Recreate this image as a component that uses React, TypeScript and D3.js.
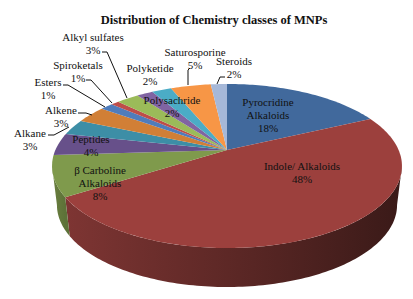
import * as d3 from "d3";

const categories = [
  "Pyrocridine Alkaloids", "Indole/ Alkaloids", "β Carboline Alkaloids", "Peptides", "Alkane", "Alkene",
  "Esters", "Spiroketals", "Alkyl sulfates", "Polyketide", "Polysachride", "Saturosporine", "Steroids",
];
// the printed labels are these rounded
const shares = [18, 48, 8, 4.4, 3.1, 3.4, 1.4, 0.9, 2.5, 1.8, 2.2, 4.5, 1.8];
const topColors = [
  "#41699c", "#9c403d", "#7f9a4c", "#67508a", "#3d8ea6", "#d17f36",
  "#4f7cbb", "#be4d49", "#9bbb59", "#8064a2", "#4bacc6", "#f79646", "#a6b8d8",
];
const wallLight = ["#335279", "#7e3533", "#6b8040"];
const wallDark = ["#2a4565", "#3a1a18", "#5d7238"];

// label lines and anchor for each category, same order as categories
const labelLines = [
  ["Pyrocridine", "Alkaloids"], ["Indole/ Alkaloids"], ["β Carboline", "Alkaloids"],
  ["Peptides"], ["Alkane"], ["Alkene"], ["Esters"], ["Spiroketals"],
  ["Alkyl sulfates"], ["Polyketide"], ["Polysachride"], ["Saturosporine"], ["Steroids"],
];
const labelAnchors = [
  [268, 106], [302, 170], [100, 174], [91, 143], [30, 137], [61, 114], [48, 86],
  [78, 69], [93, 41], [150, 72], [172, 104], [195, 56], [234, 65],
];
const leaders = [
  [[48, 135], [54, 135], [69, 127]],
  [[78, 113], [86, 113], [92, 115]],
  [[63, 85], [68, 85], [105, 107]],
  [[86, 80], [91, 80], [112, 103]],
  [[102, 52], [107, 52], [127, 98]],
  [[190, 68], [188, 70], [188, 85]],
  [[225, 77], [220, 77], [217, 84]],
];

const W = 413;
const H = 299;
const apexX = 227;
const apexY = 150;
const persp = 0.195;
const scaleX = 171.6;
const scaleY = 78.9;
const depth = 39;
const bottomShrink = 0.972;
const rightEdge = Math.acos(-persp);
const leftEdge = 2 * Math.PI - rightEdge;

// unit circle to the tilted top face, the back edge comes out shorter
function project(a: number): [number, number] {
  const u = Math.sin(a);
  const v = Math.cos(a);
  const w = 1 + persp * v;
  return [apexX + (scaleX * u) / w, apexY - (scaleY * v) / w];
}

function arcPoints(a0: number, a1: number) {
  const n = Math.max(2, Math.ceil((a1 - a0) / 0.02));
  return d3.range(n + 1).map((i) => project(a0 + ((a1 - a0) * i) / n));
}

const line = d3.line();
const pieData = d3.pie<number>().sort(null).value((d) => d)(shares);

export default function App() {
  const walls = pieData
    .map((d, i) => ({ i, a0: Math.max(d.startAngle, rightEdge), a1: Math.min(d.endAngle, leftEdge) }))
    .filter((d) => d.a1 > d.a0);

  return (
    <svg
      width={W}
      height={H}
      style={{ position: "absolute", left: 0, top: 0, background: "#fff" }}
      fontFamily="'Liberation Serif', serif"
      fontSize={11}
      fill="#111"
    >
      <defs>
        {walls.map((d) => {
          const x0 = project(d.a1)[0];
          const x1 = project(d.a0)[0];
          return (
            <linearGradient key={d.i} id={`wall${d.i}`} gradientUnits="userSpaceOnUse" x1={x0} x2={x1} y1={0} y2={0}>
              <stop offset="0%" stopColor={wallLight[d.i]} />
              <stop offset="100%" stopColor={wallDark[d.i]} />
            </linearGradient>
          );
        })}
      </defs>

      <text x={214} y={24} textAnchor="middle" fontWeight="bold" fontSize={12.5}>
        Distribution of Chemistry classes of MNPs
      </text>

      {walls.map((d) => {
        const upper = arcPoints(d.a0, d.a1);
        const lower = upper
          .map(([x, y]) => [apexX + (x - apexX) * bottomShrink, y + depth] as [number, number])
          .reverse();
        return <path key={d.i} d={line([...upper, ...lower]) + "Z"} fill={`url(#wall${d.i})`} />;
      })}

      {pieData.map((d, i) => (
        <path
          key={categories[i]}
          d={line([[apexX, apexY], ...arcPoints(d.startAngle, d.endAngle)]) + "Z"}
          fill={topColors[i]}
        />
      ))}

      {leaders.map((pts, i) => (
        <path key={i} d={line(pts as [number, number][]) ?? ""} fill="none" stroke="#111" strokeWidth={1} />
      ))}

      {labelLines.map((lines, i) => (
        <text key={i} textAnchor="middle">
          {[...lines, `${Math.round(shares[i])}%`].map((t, j) => (
            <tspan key={j} x={labelAnchors[i][0]} y={labelAnchors[i][1] + j * 13}>
              {t}
            </tspan>
          ))}
        </text>
      ))}
    </svg>
  );
}
